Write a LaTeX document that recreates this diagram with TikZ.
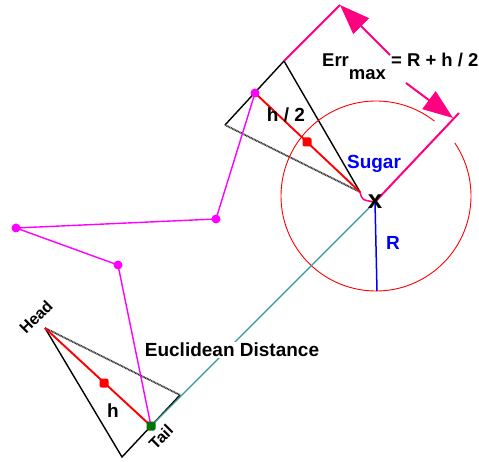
\documentclass[tikz,border=0pt]{standalone}
\usepackage{fontspec}
\setmainfont{Liberation Sans}
\usetikzlibrary{arrows.meta}

\definecolor{hotpink}{RGB}{255,0,128}
\definecolor{pathpink}{RGB}{255,0,255}
\definecolor{tealline}{RGB}{51,153,153}
\definecolor{sugarblue}{RGB}{0,0,255}
\definecolor{dotred}{RGB}{255,0,0}

\begin{document}
\begin{tikzpicture}[x=1pt, y=-1pt, font=\bfseries\fontsize{19}{21}\selectfont,
	joint/.style={circle, fill=pathpink, inner sep=0pt, minimum size=9pt},
	middot/.style={rectangle, rounded corners=2pt, fill=dotred, inner sep=0pt, minimum size=9pt},
	side/.style={line width=1.4pt},
	faded/.style={line width=1.8pt, black!80, dash pattern=on 1pt off 0.6pt},
	dim/.style={hotpink, line width=2pt},
	bigtip/.style={dim, -{Triangle[length=30pt, width=22pt]}}]
	\useasboundingbox (0,0) rectangle (479,462);
	\coordinate (ucorner) at (284,61);
	\coordinate (uback) at (225,125);
	\coordinate (uhead) at (360,192);
	\coordinate (sugar) at (375,202);
	\coordinate (ring) at (376,196);
	\coordinate (rbot) at (377,291);
	\coordinate (lhead) at (45,328);
	\coordinate (lside) at (180,395);
	\coordinate (lbase) at (122,457);
	\coordinate (dimtop) at (340,5);
	\coordinate (dimend) at (459,113);
	\coordinate (dimtopin) at (390,55);
	\coordinate (dimbotin) at (406,83);
	\coordinate (dimbot) at (453,118);

	\draw[side] (uback) -- (ucorner) -- (uhead);
	\draw[faded] (uback) -- (uhead);
	\draw[side] (lhead) -- (lbase) -- (lside);
	\draw[faded] (lhead) -- (lside);

	\draw[dotred, line width=0.9pt] (ring) ++(-34:95) arc[start angle=-34, end angle=308, radius=95];
	\draw[sugarblue, line width=1.5pt] (sugar) -- (rbot);
	\draw[tealline, line width=1.1pt] (151,426) coordinate (ltailpt) -- (sugar);

	\draw[dim] (ucorner) -- (dimtop);
	\draw[dim] (sugar) -- (dimend);
	\draw[bigtip] (dimtopin) -- (dimtop);
	\draw[bigtip] (dimbotin) -- (dimbot);
	\draw[dim, line width=1.5pt] (uhead) .. controls (362,200) .. (sugar);

	\draw[dotred, line width=1.9pt] (255,93) coordinate (utailpt) -- (uhead);
	\draw[dotred, line width=1.9pt] (lhead) -- (ltailpt);
	\draw[pathpink, line width=1.4pt] (utailpt) -- (216,219) coordinate (pa) -- (16,228) coordinate (pb)
		-- (118,265) coordinate (pc) -- (ltailpt);

	\node[joint] (utail) at (utailpt) {};
	\node[joint] (p1) at (pa) {};
	\node[joint] (p2) at (pb) {};
	\node[joint] (p3) at (pc) {};
	\node[middot] (umid) at (307,142) {};
	\node[middot] (lmid) at (104,383) {};
	\node[middot, fill=green!45!black] (ltail) at (ltailpt) {};

	\node[sugarblue] (sugarlbl) at (374,164) {Sugar};
	\node[font=\bfseries\fontsize{26}{26}\selectfont, inner sep=0pt] (xmark) at (sugar) {x};
	\node[sugarblue] (rlbl) at (393,243) {R};
	\node (halflbl) at (286,115) {h / 2};
	\node (hlbl) at (113,411) {h};
	\node[rotate=45, font=\bfseries\fontsize{16}{18}\selectfont] (headlbl) at (36,317) {Head};
	\node[rotate=45, font=\bfseries\fontsize{16}{18}\selectfont] (taillbl) at (161,437) {Tail};
	\node[fill=white, inner sep=1pt] (eucl) at (232,350) {Euclidean Distance};
	\node[anchor=base west, inner sep=0pt, font=\bfseries\fontsize{18.5}{20}\selectfont] (errlbl) at (322,67)
		{Err\raisebox{-13pt}{max} = R + h / 2};
\end{tikzpicture}
\end{document}
